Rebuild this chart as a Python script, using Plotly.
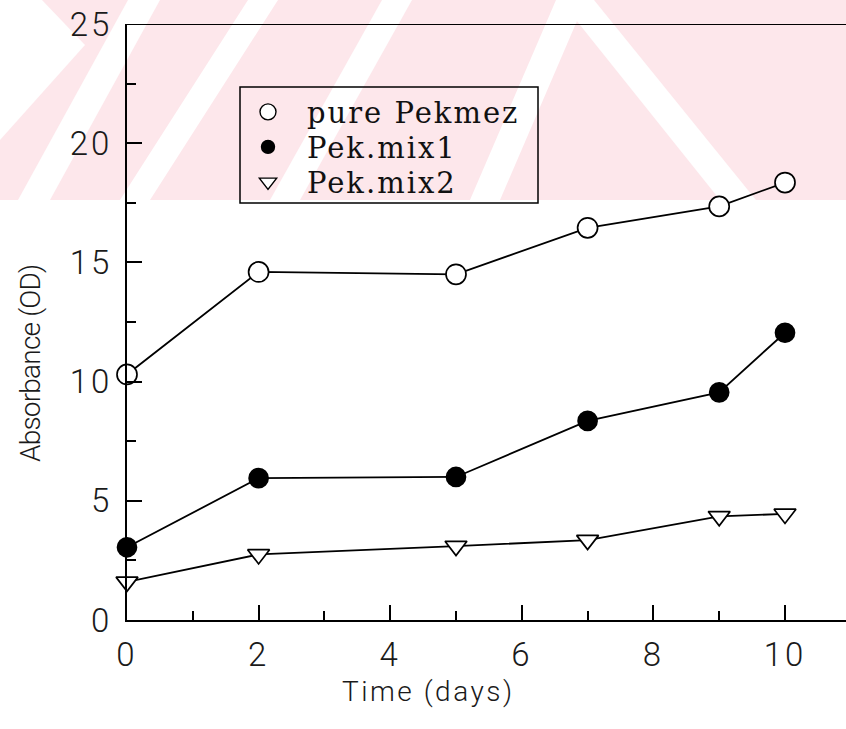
import plotly.graph_objects as go

# Absorbance (OD) of pekmez samples over storage time
days = [0, 2, 5, 7, 9, 10]
pure_pekmez = [10.3, 14.6, 14.5, 16.45, 17.35, 18.35]
pek_mix1 = [3.05, 5.95, 6.0, 8.35, 9.55, 12.05]
pek_mix2 = [1.6, 2.75, 3.1, 3.35, 4.35, 4.45]
series_names = ["pure Pekmez", "Pek.mix1", "Pek.mix2"]

x_ticks = [0, 2, 4, 6, 8, 10]
y_ticks = [0, 5, 10, 15, 20, 25]

W, H = 846, 729
ML, MT, MB = 127, 24, 109           # plot area in pixels
PW, PH = W - ML, H - MT - MB
X_PER_DAY = 65.8
x_max = PW / X_PER_DAY

def px(x, y):
    """pixel position (from top-left of the page) -> paper coordinates"""
    return (x - ML) / PW, (H - MB - y) / PH

def spaced(text, gap):
    return f'<span style="letter-spacing:{gap}px">{text}</span>'

def poly(points, color):
    pts = [px(x, y) for x, y in points]
    path = "M " + " L ".join(f"{a:.5f},{b:.5f}" for a, b in pts) + " Z"
    return dict(type="path", xref="paper", yref="paper", path=path,
                fillcolor=color, line=dict(width=0), layer="below")

PINK = "#fde7eb"
shapes = [poly([(0, 0), (W, 0), (W, 200), (0, 200)], PINK)]
white_bands = [
    [(0, 0), (42, 0), (85, 45), (0, 140)],
    [(128, 0), (160, 0), (50, 200), (18, 200)],
    [(248, 0), (278, 0), (150, 200), (120, 200)],
    [(382, 0), (412, 0), (300, 200), (270, 200)],
    [(556, 0), (586, 0), (500, 200), (470, 200)],
    [(560, 0), (594, 0), (756, 200), (720, 200)],
]
for b in white_bands:
    shapes.append(poly(b, "white"))

# top frame line
shapes.append(dict(type="line", xref="paper", yref="y", x0=0, x1=1, y0=25, y1=25,
                   line=dict(color="black", width=2), layer="above"))

# legend frame
(bx0, by0), (bx1, by1) = px(240, 87), px(538, 203)
shapes.append(dict(type="rect", xref="paper", yref="paper", x0=bx0, y0=by0, x1=bx1, y1=by1,
                   line=dict(color="black", width=1.5), fillcolor="rgba(0,0,0,0)",
                   layer="above"))

styles = [
    dict(symbol="circle", color="white", size=20),
    dict(symbol="circle", color="black", size=19),
    dict(symbol="triangle-down", color="white", size=19),
]
legend_sizes = [16, 13, 15]
legend_ids = ["legend", "legend2", "legend3"]
legend_rows = [112, 147, 182]       # row centres, px from top

fig = go.Figure()
for name, ys, st, ls, lid in zip(series_names, [pure_pekmez, pek_mix1, pek_mix2],
                                 styles, legend_sizes, legend_ids):
    fig.add_trace(go.Scatter(
        x=days, y=ys, mode="lines+markers", name=name, showlegend=False,
        line=dict(color="black", width=1.8),
        marker=dict(symbol=st["symbol"], size=st["size"], color=st["color"],
                    line=dict(color="black", width=1.7)),
        cliponaxis=False,
    ))
    fig.add_trace(go.Scatter(
        x=[None], y=[None], mode="markers", legend=lid,
        name=spaced(name, 2),
        marker=dict(symbol=st["symbol"], size=ls, color=st["color"],
                    line=dict(color="black", width=1.4)),
    ))

legend_font = dict(family="DejaVu Serif, serif", size=29, color="#111")
legends = {}
for lid, row in zip(legend_ids, legend_rows):
    lx, ly = px(229, row)
    legends[lid] = dict(
        x=lx, y=ly, xanchor="left", yanchor="middle",
        bgcolor="rgba(0,0,0,0)", borderwidth=0,
        font=legend_font, itemwidth=68,
    )

SANS = "Roboto, Liberation Sans, Arial, sans-serif"
tick_font = dict(family=SANS, size=33, color="#1a1a1a", weight=300)

fig.update_layout(
    width=W, height=H,
    margin=dict(l=ML, r=0, t=MT, b=MB),
    paper_bgcolor="white", plot_bgcolor="rgba(0,0,0,0)",
    shapes=shapes,
    showlegend=True,
    **legends,
    xaxis=dict(
        range=[0, x_max], tickvals=x_ticks, ticktext=[spaced(v, 3) for v in x_ticks],
        ticks="inside", ticklen=15, tickwidth=1.5,
        tickcolor="black", showline=True, linecolor="black", linewidth=2,
        showgrid=False, zeroline=False, tickfont=tick_font, ticklabelstandoff=4,
        minor=dict(dtick=1, tick0=0, ticks="inside", ticklen=9, tickwidth=1.5, tickcolor="black"),
    ),
    yaxis=dict(
        range=[0, 25], tickvals=y_ticks, ticktext=[spaced(v, 3) for v in y_ticks],
        ticks="inside", ticklen=15, tickwidth=1.5,
        tickcolor="black", showline=True, linecolor="black", linewidth=2,
        showgrid=False, zeroline=False, tickfont=tick_font, ticklabelstandoff=6,
        minor=dict(dtick=2.5, tick0=0, ticks="inside", ticklen=9, tickwidth=1.5, tickcolor="black"),
    ),
    annotations=[
        dict(text=spaced("Time (days)", 2.5), xref="paper", yref="paper",
             x=px(428, 691)[0], y=px(428, 691)[1], xanchor="center", yanchor="middle",
             showarrow=False, font=dict(family=SANS, size=28, color="#1a1a1a", weight=300)),
        dict(text=spaced("Absorbance (OD)", -0.8), xref="paper", yref="paper",
             x=px(30, 364)[0], y=px(30, 364)[1], xanchor="center", yanchor="middle",
             showarrow=False, textangle=-90,
             font=dict(family=SANS, size=28, color="#1a1a1a", weight=300)),
    ],
)

fig.write_html("out.html")
